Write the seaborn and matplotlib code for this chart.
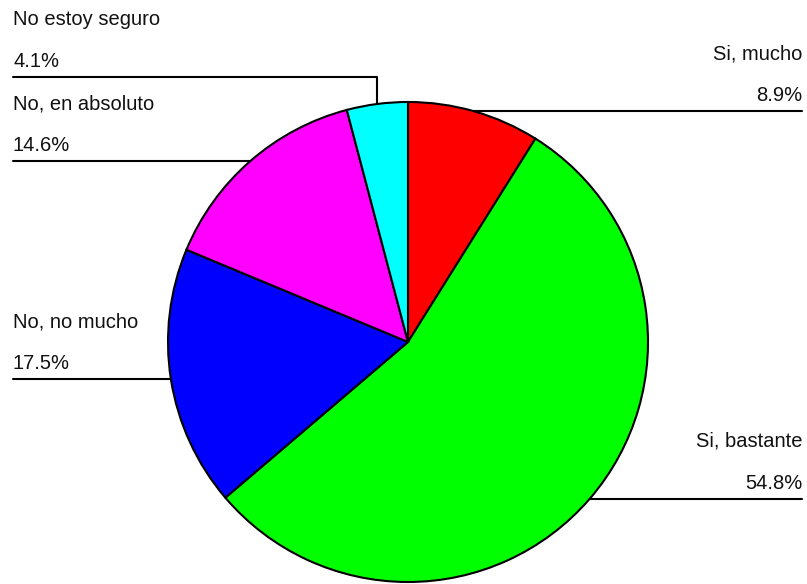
import numpy as np
import seaborn as sns
import matplotlib
matplotlib.use("Agg")
import matplotlib.pyplot as plt

sns.set_style("white")
plt.rcParams['font.family'] = ['Liberation Sans', 'DejaVu Sans']

# Survey answers, clockwise from the top
labels = ["Si, mucho", "Si, bastante", "No, no mucho", "No, en absoluto", "No estoy seguro"]
values = [8.9, 54.8, 17.5, 14.6, 4.1]
colors = ["#FF0000", "#00FF00", "#0000FF", "#FF00FF", "#00FFFF"]

W, H = 807, 584
fig = plt.figure(figsize=(W / 100, H / 100), dpi=100)
ax = fig.add_axes([0, 0, 1, 1])

cx, cy, r = 408, H - 342, 240
wedges, _ = ax.pie(values, colors=colors, startangle=90, counterclock=False,
                   center=(cx, cy), radius=r, frame=True,
                   wedgeprops=dict(edgecolor="black", linewidth=1.5))
ax.set_xlim(0, W)
ax.set_ylim(0, H)
ax.axis("off")

fs = 14.5
left_x, right_x = 13, 802
for w, lab, val in zip(wedges, labels, values):
    mid = np.deg2rad((w.theta1 + w.theta2) / 2)
    ex, ey = cx + r * np.cos(mid), cy + r * np.sin(mid)
    right = np.cos(mid) > 0
    if lab == "No estoy seguro":
        # elbow leader: too close to the top of the pie for a flat line
        ly = H - 77
        ax.plot([left_x, ex, ex], [ly, ly, ey], color="black", lw=1.5)
    else:
        ly = ey
        ax.plot([ex, right_x] if right else [left_x, ex], [ly, ly], color="black", lw=1.5)
    tx = right_x if right else left_x
    ha = "right" if right else "left"
    ax.text(tx, ly + 10, f"{val:.1f}%", ha=ha, va="baseline", fontsize=fs, color="#111111")
    ax.text(tx, ly + 52, lab, ha=ha, va="baseline", fontsize=fs, color="#111111")

fig.savefig("out.png", dpi=100)
